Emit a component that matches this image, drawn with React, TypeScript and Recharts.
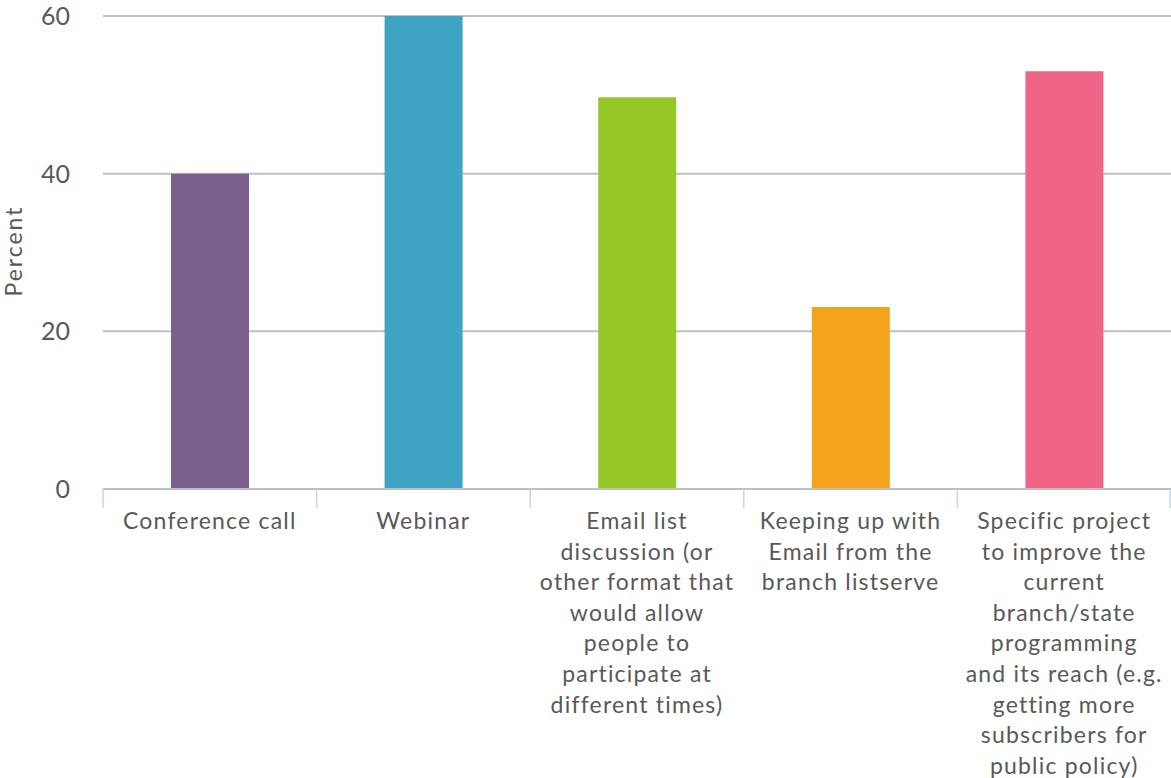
import { Bar, BarChart, CartesianGrid, Cell, XAxis, YAxis } from "recharts";

document.body.style.margin = "0";

const categories = [
    "Conference call",
    "Webinar",
    "Email list discussion (or other format that would allow people to participate at different times)",
    "Keeping up with Email from the branch listserve",
    "Specific project to improve the current branch/state programming and its reach (e.g. getting more subscribers for public policy)",
];

const tickLines = [
    ["Conference call"],
    ["Webinar"],
    ["Email list", "discussion (or", "other format that", "would allow", "people to", "participate at", "different times)"],
    ["Keeping up with", "Email from the", "branch listserve"],
    ["Specific project", "to improve the", "current", "branch/state", "programming", "and its reach (e.g.", "getting more", "subscribers for", "public policy)"],
];

const percents = [40, 60, 49.7, 23.1, 53];
const barColors = ["#7b5f8d", "#3fa3c2", "#95c727", "#f4a41c", "#f06487"];
const yTicks = [0, 20, 40, 60];

const W = 1171;
const H = 778;
const LEFT = 103;
const BAND = (W - LEFT) / categories.length;
const FONT = "Lato, 'Noto Sans', sans-serif";

const data = categories.map((name, i) => ({ name, value: percents[i] }));

const CategoryTick = (props: any) => {
    const { x, y, index, payload } = props;
    const lines = tickLines[index] ?? [String(payload.value)];
    const last = index === categories.length - 1;
    return (
        <g>
            <line x1={x - BAND / 2} x2={x - BAND / 2} y1={y} y2={y + 19} stroke="#c9d6e7" strokeWidth={1.5} />
            {last && <line x1={x + BAND / 2 - 1} x2={x + BAND / 2 - 1} y1={y} y2={y + 19} stroke="#c9d6e7" strokeWidth={1.5} />}
            <text x={x} y={y + 40} textAnchor="middle" fill="#595959" fontSize={23} fontFamily={FONT} letterSpacing={1.2}>
                {lines.map((l: string, i: number) => (
                    <tspan key={i} x={x} dy={i === 0 ? 0 : 30.6}>{l}</tspan>
                ))}
            </text>
        </g>
    );
};

const PercentLabel = () => (
    <text x={13} y={251} transform="rotate(-90 13 251)" textAnchor="middle" dominantBaseline="central"
        fill="#595959" fontSize={23} fontFamily={FONT} letterSpacing={2}>
        Percent
    </text>
);

export default function App() {
    return (
        <div style={{ width: W, height: H, background: "#fff" }}>
            <BarChart width={W} height={H} data={data} margin={{ top: 16, right: 0, left: 0, bottom: 0 }} barSize={78}>
                <CartesianGrid vertical={false} stroke="#c0c0c0" strokeWidth={2} />
                <XAxis
                    dataKey="name"
                    interval={0}
                    height={289}
                    tickLine={false}
                    tickSize={0}
                    tickMargin={0}
                    axisLine={{ stroke: "#bfbfbf", strokeWidth: 2 }}
                    tick={<CategoryTick />}
                />
                <YAxis
                    width={LEFT}
                    domain={[0, 60]}
                    ticks={yTicks}
                    axisLine={false}
                    tickLine={false}
                    tickSize={0}
                    tickMargin={33}
                    tick={{ fill: "#595959", fontSize: 25, fontFamily: FONT }}
                    label={<PercentLabel />}
                />
                <Bar dataKey="value" isAnimationActive={false}>
                    {data.map((d, i) => (
                        <Cell key={d.name} fill={barColors[i]} />
                    ))}
                </Bar>
            </BarChart>
        </div>
    );
}
